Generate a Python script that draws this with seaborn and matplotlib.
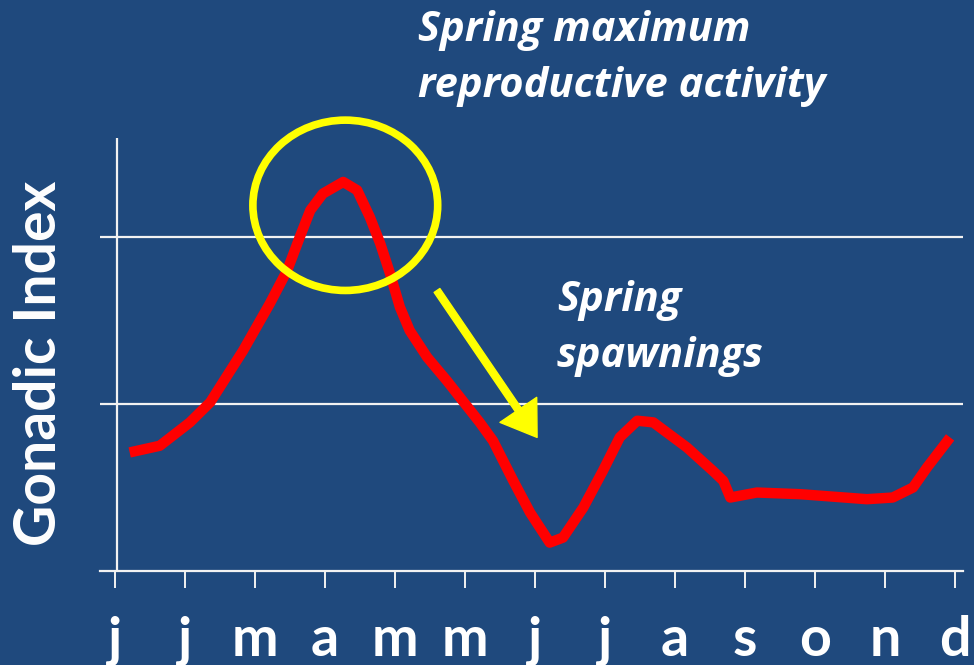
import pandas as pd
import matplotlib.pyplot as plt
import seaborn as sns
from matplotlib.patches import Ellipse

# month tick labels (as written on the slide)
months = ["j", "j", "m", "a", "m", "m", "j", "j", "a", "s", "o", "n", "d"]

# gonadic index curve (x = month position, y = grid units)
gi_x = [0.21, 0.64, 1.07, 1.36, 1.83, 2.21, 2.46, 2.64, 2.79, 2.97, 3.26, 3.46,
        3.64, 3.79, 3.93, 4.07, 4.21, 4.46, 4.74, 5.21, 5.40, 5.69, 5.93, 6.21,
        6.40, 6.69, 6.97, 7.21, 7.46, 7.69, 8.17, 8.54, 8.69, 8.79, 9.17, 9.79,
        10.74, 11.11, 11.40, 11.60, 11.93]
gi_y = [0.71, 0.75, 0.89, 1.01, 1.32, 1.60, 1.80, 2.00, 2.16, 2.26, 2.33, 2.28,
        2.12, 1.96, 1.78, 1.58, 1.44, 1.28, 1.14, 0.89, 0.78, 0.54, 0.35, 0.17,
        0.20, 0.38, 0.60, 0.80, 0.90, 0.89, 0.74, 0.60, 0.54, 0.44, 0.47, 0.46,
        0.43, 0.44, 0.50, 0.62, 0.80]

df = pd.DataFrame({"month": gi_x, "gi": gi_y})

bg = "#1F497D"
sns.set_theme(style="dark")
plt.rcParams['font.family'] = ['Lato', 'DejaVu Sans']

fig = plt.figure(figsize=(9.74, 6.65), dpi=100, facecolor=bg)
ax = fig.add_axes([100 / 974, 94 / 665, 863 / 974, 433 / 665])
ax.set_facecolor(bg)

sns.lineplot(data=df, x="month", y="gi", ax=ax, color="#FF0000", lw=7.5,
             sort=False, solid_capstyle="butt", solid_joinstyle="round", zorder=3)

ax.set_xlim(-0.214, 12.114)
ax.set_ylim(0, 2.593)

# grid lines
ax.set_yticks([1, 2])
ax.yaxis.grid(True, color="#F2F2F2", lw=1.6)
ax.xaxis.grid(False)
ax.tick_params(axis="y", length=0, labelleft=False)

# y axis line
ax.axvline(0.03, ymin=0, ymax=1, color="#F2F2F2", lw=1.6)

for s in ["left", "right", "top"]:
    ax.spines[s].set_visible(False)
ax.spines["bottom"].set_color("#F2F2F2")
ax.spines["bottom"].set_linewidth(1.6)

ax.set_xticks(range(len(months)))
ax.set_xticklabels(months, fontsize=40, fontweight="bold", color="white")
ax.tick_params(axis="x", direction="out", length=12, width=1.4, color="#F2F2F2",
               pad=20, bottom=True)
ax.set_xlabel("")
ax.set_ylabel("")

fig.text(40 / 974, 1 - 363 / 665, "Gonadic Index", rotation=90, fontsize=41,
         fontweight="bold", color="white", ha="center", va="center")

# yellow circle around the maximum
ax.add_patch(Ellipse((3.29, 2.19), 2.64, 1.02, fill=False, ec="#FFFF00", lw=5.5,
                     zorder=4, clip_on=False))

# yellow arrow
ax.annotate("", xy=(6.03, 0.80), xytext=(4.6, 1.68),
            arrowprops=dict(arrowstyle="simple,head_width=1.6,head_length=1.2,tail_width=0.25",
                            color="#FFFF00", mutation_scale=20, shrinkA=0, shrinkB=0))

note = dict(fontsize=30, fontweight="bold", fontstyle="italic", color="white",
            ha="left", va="baseline", family=["Open Sans", "DejaVu Sans"])
fig.text(418 / 974, 1 - 41 / 665, "Spring maximum", **note)
fig.text(418 / 974, 1 - 97 / 665, "reproductive activity", **note)
fig.text(557 / 974, 1 - 311 / 665, "Spring", **note)
fig.text(557 / 974, 1 - 367 / 665, "spawnings", **note)

fig.savefig("out.png", dpi=100, facecolor=bg)
